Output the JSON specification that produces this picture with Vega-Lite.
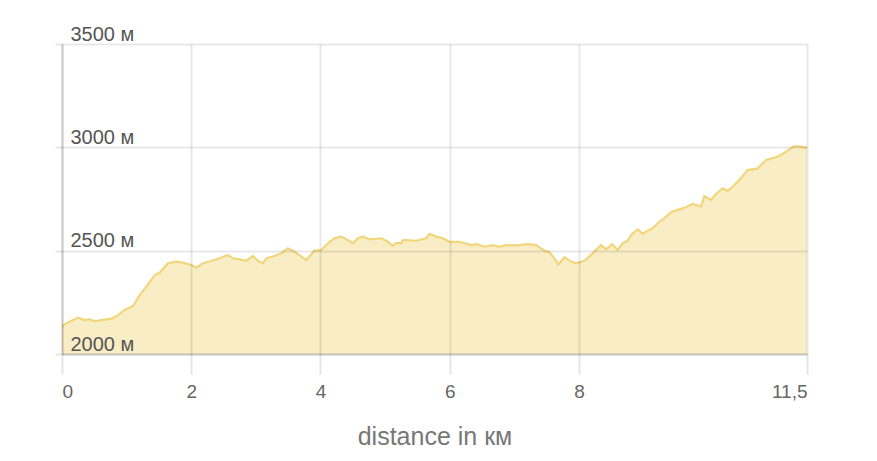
{
  "$schema": "https://vega.github.io/schema/vega-lite/v6.json",
  "width": 745,
  "height": 310,
  "autosize": {"type": "none"},
  "padding": {"left": 62, "top": 44, "right": 70, "bottom": 107},
  "background": "white",
  "config": {
    "view": {"stroke": null},
    "font": "Liberation Sans"
  },
  "data": {
    "values": [
      {"km": 0.0, "ele": 2132}, {"km": 0.068, "ele": 2149}, {"km": 0.247, "ele": 2176}, {"km": 0.351, "ele": 2164},
      {"km": 0.428, "ele": 2168}, {"km": 0.506, "ele": 2158}, {"km": 0.609, "ele": 2164}, {"km": 0.764, "ele": 2171},
      {"km": 0.866, "ele": 2187}, {"km": 0.970, "ele": 2213}, {"km": 1.098, "ele": 2232}, {"km": 1.202, "ele": 2285},
      {"km": 1.305, "ele": 2326}, {"km": 1.434, "ele": 2382}, {"km": 1.511, "ele": 2393}, {"km": 1.640, "ele": 2439},
      {"km": 1.770, "ele": 2447}, {"km": 1.872, "ele": 2442}, {"km": 2.002, "ele": 2431}, {"km": 2.079, "ele": 2418},
      {"km": 2.181, "ele": 2439}, {"km": 2.311, "ele": 2450}, {"km": 2.439, "ele": 2463}, {"km": 2.568, "ele": 2479},
      {"km": 2.645, "ele": 2463}, {"km": 2.749, "ele": 2458}, {"km": 2.852, "ele": 2451}, {"km": 2.954, "ele": 2474},
      {"km": 3.032, "ele": 2451}, {"km": 3.109, "ele": 2439}, {"km": 3.162, "ele": 2463}, {"km": 3.290, "ele": 2474},
      {"km": 3.394, "ele": 2487}, {"km": 3.496, "ele": 2511}, {"km": 3.599, "ele": 2495}, {"km": 3.703, "ele": 2471},
      {"km": 3.780, "ele": 2455}, {"km": 3.909, "ele": 2500}, {"km": 4.012, "ele": 2503}, {"km": 4.141, "ele": 2543},
      {"km": 4.218, "ele": 2560}, {"km": 4.322, "ele": 2568}, {"km": 4.424, "ele": 2552}, {"km": 4.501, "ele": 2536},
      {"km": 4.578, "ele": 2560}, {"km": 4.656, "ele": 2568}, {"km": 4.759, "ele": 2555}, {"km": 4.940, "ele": 2560},
      {"km": 5.042, "ele": 2543}, {"km": 5.120, "ele": 2523}, {"km": 5.172, "ele": 2538}, {"km": 5.250, "ele": 2536},
      {"km": 5.275, "ele": 2552}, {"km": 5.482, "ele": 2548}, {"km": 5.636, "ele": 2560}, {"km": 5.688, "ele": 2581},
      {"km": 5.791, "ele": 2568}, {"km": 5.893, "ele": 2560}, {"km": 5.997, "ele": 2543}, {"km": 6.152, "ele": 2543},
      {"km": 6.333, "ele": 2527}, {"km": 6.410, "ele": 2532}, {"km": 6.538, "ele": 2519}, {"km": 6.667, "ele": 2527},
      {"km": 6.770, "ele": 2519}, {"km": 6.874, "ele": 2527}, {"km": 7.029, "ele": 2526}, {"km": 7.208, "ele": 2532},
      {"km": 7.338, "ele": 2527}, {"km": 7.466, "ele": 2500}, {"km": 7.544, "ele": 2492}, {"km": 7.621, "ele": 2463},
      {"km": 7.683, "ele": 2434}, {"km": 7.776, "ele": 2468}, {"km": 7.879, "ele": 2447}, {"km": 7.957, "ele": 2439},
      {"km": 8.085, "ele": 2451}, {"km": 8.213, "ele": 2487}, {"km": 8.343, "ele": 2527}, {"km": 8.421, "ele": 2507},
      {"km": 8.514, "ele": 2532}, {"km": 8.600, "ele": 2503}, {"km": 8.677, "ele": 2536}, {"km": 8.755, "ele": 2548},
      {"km": 8.807, "ele": 2576}, {"km": 8.910, "ele": 2603}, {"km": 8.987, "ele": 2581}, {"km": 9.064, "ele": 2597},
      {"km": 9.142, "ele": 2608}, {"km": 9.245, "ele": 2640}, {"km": 9.322, "ele": 2658}, {"km": 9.431, "ele": 2687},
      {"km": 9.555, "ele": 2700}, {"km": 9.658, "ele": 2710}, {"km": 9.760, "ele": 2726}, {"km": 9.890, "ele": 2713},
      {"km": 9.941, "ele": 2764}, {"km": 10.045, "ele": 2745}, {"km": 10.122, "ele": 2774}, {"km": 10.224, "ele": 2802},
      {"km": 10.302, "ele": 2789}, {"km": 10.379, "ele": 2809}, {"km": 10.483, "ele": 2842}, {"km": 10.611, "ele": 2890},
      {"km": 10.766, "ele": 2898}, {"km": 10.896, "ele": 2939}, {"km": 11.050, "ele": 2952}, {"km": 11.127, "ele": 2963},
      {"km": 11.230, "ele": 2984}, {"km": 11.333, "ele": 3006}, {"km": 11.437, "ele": 3003}, {"km": 11.53, "ele": 2997}
    ]
  },
  "mark": {
    "type": "area",
    "color": "#f9edc6",
    "opacity": 1,
    "fillOpacity": 1,
    "line": {"color": "#f1d67c", "strokeWidth": 2.2},
    "clip": true
  },
  "encoding": {
    "x": {
      "field": "km",
      "type": "quantitative",
      "scale": {"domain": [0, 11.53], "nice": false, "zero": false},
      "axis": {
        "values": [0, 2, 4, 6, 8, 11.53],
        "labelExpr": "datum.value > 11 ? '11,5' : datum.label",
        "labelFlush": true,
        "labelOverlap": false,
        "labelFontSize": 19,
        "labelColor": "#666666",
        "labelPadding": 8,
        "tickSize": 20,
        "tickColor": "#000000",
        "tickOpacity": 0.1,
        "tickWidth": 2,
        "grid": true,
        "gridColor": "#000000",
        "gridOpacity": 0.09,
        "gridWidth": 2,
        "domainColor": "#000000",
        "domainOpacity": 0.15,
        "domainWidth": 2,
        "title": "distance in км",
        "titleFontSize": 25,
        "titleFontWeight": "normal",
        "titleColor": "#777777",
        "titlePadding": 23,
        "zindex": 1
      }
    },
    "y": {
      "field": "ele",
      "type": "quantitative",
      "scale": {"domain": [2000, 3500], "nice": false, "zero": false},
      "axis": {
        "values": [2000, 2500, 3000, 3500],
        "labelExpr": "datum.value + ' м'",
        "labelAlign": "left",
        "labelBaseline": "alphabetic",
        "labelOffset": -4,
        "labelPadding": -15,
        "labelFlush": false,
        "labelOverlap": false,
        "labelFontSize": 20,
        "labelColor": "#555555",
        "tickSize": 7,
        "tickColor": "#000000",
        "tickOpacity": 0.1,
        "tickWidth": 2,
        "grid": true,
        "gridColor": "#000000",
        "gridOpacity": 0.09,
        "gridWidth": 2,
        "domainColor": "#000000",
        "domainOpacity": 0.15,
        "domainWidth": 2,
        "title": null,
        "zindex": 1
      }
    },
    "y2": {"datum": 2000}
  }
}
